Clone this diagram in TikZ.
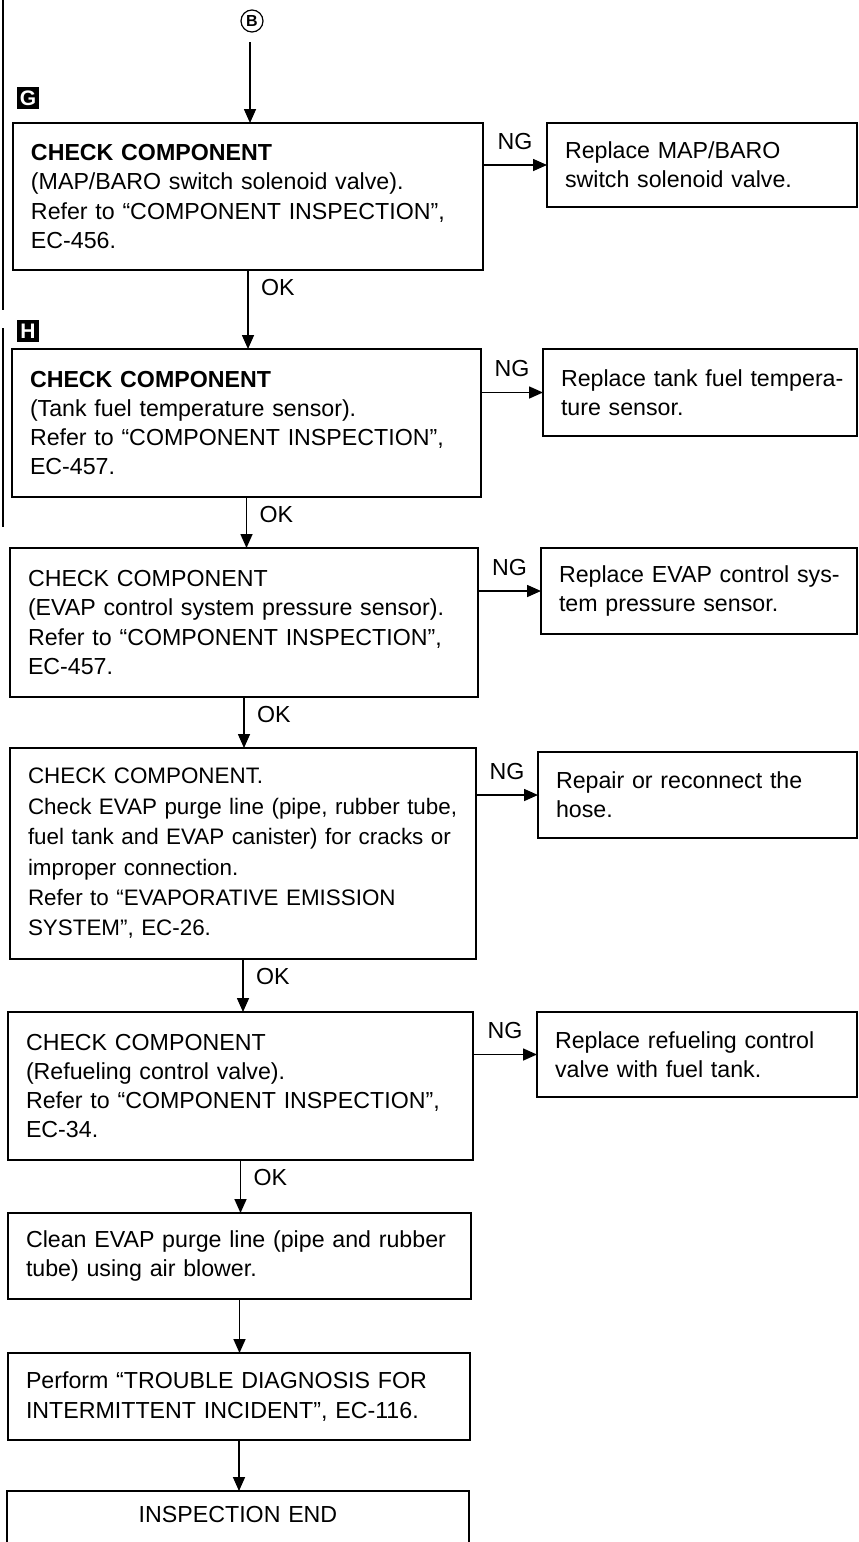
\documentclass[tikz,border=0pt]{standalone}
\usepackage{fontspec}
\setmainfont{Liberation Sans}
\usetikzlibrary{arrows.meta,positioning}

\begin{document}
\begin{tikzpicture}[x=0.5pt,y=-0.5pt,
  box/.style={draw,line width=1pt,anchor=north west,align=left,inner xsep=9pt,inner ysep=0pt,outer sep=0pt,
    font=\fontsize{11.6}{14.6}\selectfont,execute at begin node={\rightskip=0pt plus 1fil minus 30pt}},
  arr/.style={line width=0.8pt,-{Triangle[length=7pt,width=6pt]}},
  lab/.style={font=\fontsize{11.6}{14}\selectfont},
  tag/.style={fill=black,text=white,minimum size=11pt,inner sep=0pt,font=\fontsize{10.5}{10.5}\selectfont\bfseries}]
\useasboundingbox (0,0) rectangle (858,1542);
% side bar and step tags
\draw[line width=1pt] (3,0) -- (3,310) (3,328) -- (3,527);
\node[tag] (tagG) at (28,98) {G};
\node[tag] (tagH) at (28,331) {H};
\node[draw,circle,line width=0.6pt,inner sep=0pt,minimum size=11pt,font=\fontsize{8}{8}\selectfont\bfseries] (circB) at (252,21) {B};
\coordinate (start) at (250,42);
% main column
\node[box,text width=217pt,minimum height=73.5pt] (b1) at (13,123) {\textbf{CHECK COMPONENT}\\(MAP/BARO switch solenoid valve).\\Refer to “COMPONENT INSPECTION”,\\EC-456.};
\node[box,text width=216.5pt,minimum height=74pt] (b2) at (12,349) {\textbf{CHECK COMPONENT}\\(Tank fuel temperature sensor).\\Refer to “COMPONENT INSPECTION”,\\EC-457.};
\node[box,text width=216pt,minimum height=74.5pt] (b3) at (10,548) {CHECK COMPONENT\\(EVAP control system pressure sensor).\\Refer to “COMPONENT INSPECTION”,\\EC-457.};
\node[box,text width=215pt,minimum height=105.5pt,font=\fontsize{11.2}{15.2}\selectfont] (b4) at (10,748) {CHECK COMPONENT.\\Check EVAP purge line (pipe, rubber tube,\\fuel tank and EVAP canister) for cracks or\\improper connection.\\Refer to “EVAPORATIVE EMISSION\\SYSTEM”, EC-26.};
\node[box,text width=214.5pt,minimum height=74pt] (b5) at (8,1012) {CHECK COMPONENT\\(Refueling control valve).\\Refer to “COMPONENT INSPECTION”,\\EC-34.};
\node[box,text width=213.5pt,minimum height=43pt] (b6) at (8,1213) {Clean EVAP purge line (pipe and rubber\\tube) using air blower.};
\node[box,text width=213pt,minimum height=43.5pt] (b7) at (8,1353) {Perform “TROUBLE DIAGNOSIS FOR\\INTERMITTENT INCIDENT”, EC-116.};
\node[box,text width=213pt,align=center,execute at begin node={\leftskip=0pt plus 1fil\rightskip=0pt plus 1fil},inner ysep=7.5pt,text height=8.3pt,text depth=40pt] (b8) at (7,1491) {INSPECTION END};
% NG column
\node[box,text width=137pt,minimum height=42pt] (r1) at (547,123) {Replace MAP/BARO\\switch solenoid valve.};
\node[box,text width=139pt,minimum height=43.5pt] (r2) at (543,349) {Replace tank fuel tempera-\\ture sensor.};
\node[box,text width=140pt,minimum height=43pt] (r3) at (541,548) {Replace EVAP control sys-\\tem pressure sensor.};
\node[box,text width=141.5pt,minimum height=43pt] (r4) at (538,752) {Repair or reconnect the\\hose.};
\node[box,text width=142pt,minimum height=42.5pt] (r5) at (537,1012) {Replace refueling control\\valve with fuel tank.};
% OK connectors
\draw[arr] (start) -- (start |- b1.north);
\draw[arr] (b1.south) -- (b1.south |- b2.north);
\draw[arr] (b2.south) -- (b2.south |- b3.north);
\draw[arr] (b3.south) -- (b3.south |- b4.north);
\draw[arr] (b4.south) -- (b4.south |- b5.north);
\draw[arr] (b5.south) -- (b5.south |- b6.north);
\draw[arr] (b6.south) -- (b6.south |- b7.north);
\draw[arr] (b7.south) -- (b7.south |- b8.north);
\node[lab,below right=1pt and 3pt of b1.south] (ok1) {OK};
\node[lab,below right=1pt and 3pt of b2.south] (ok2) {OK};
\node[lab,below right=1pt and 3pt of b3.south] (ok3) {OK};
\node[lab,below right=1pt and 3pt of b4.south] (ok4) {OK};
\node[lab,below right=1pt and 3pt of b5.south] (ok5) {OK};
% NG connectors
\draw[arr] (r1.west -| b1.east) -- node[lab,above=4pt] (ng1) {NG} (r1.west);
\draw[arr] (r2.west -| b2.east) -- node[lab,above=4pt] (ng2) {NG} (r2.west);
\draw[arr] (r3.west -| b3.east) -- node[lab,above=4pt] (ng3) {NG} (r3.west);
\draw[arr] (r4.west -| b4.east) -- node[lab,above=4pt] (ng4) {NG} (r4.west);
\draw[arr] (r5.west -| b5.east) -- node[lab,above=4pt] (ng5) {NG} (r5.west);
\end{tikzpicture}
\end{document}
